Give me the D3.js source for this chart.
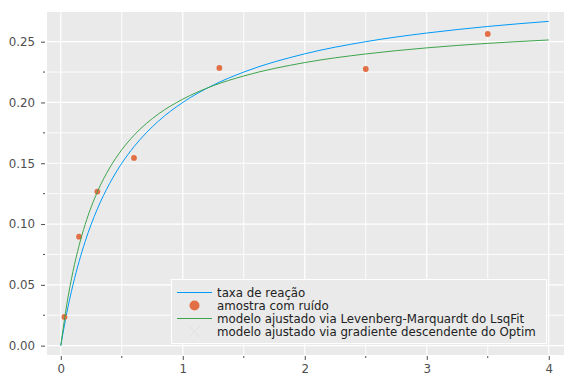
<!DOCTYPE html>
<html><head><meta charset="utf-8">
<script src="https://cdn.jsdelivr.net/npm/d3@7"></script>
<style>body{margin:0;background:#fff}svg{display:block}text{font-family:"DejaVu Sans",sans-serif}</style>
</head><body><svg id="c" width="576" height="384"></svg>
<script>
const curveX = [0,0.05,0.1,0.15,0.2,0.3,0.4,0.5,0.6,0.8,1,1.25,1.5,2,2.5,3,3.5,4];
const taxaReacao = [0,0.0273,0.05,0.0692,0.0857,0.1125,0.1333,0.15,0.1636,0.1846,0.2,0.2143,0.225,0.24,0.25,0.2571,0.2625,0.2667];
const modeloLM = [0,0.0343,0.0610,0.0823,0.0997,0.1265,0.1461,0.1611,0.1730,0.1905,0.2027,0.2138,0.2218,0.2328,0.2399,0.2449,0.2486,0.2514];
const amostraX = [0.03,0.15,0.3,0.6,1.3,2.5,3.5];
const amostraY = [0.0236,0.0896,0.1267,0.1544,0.2284,0.2275,0.2563];
const xTicks = [0,1,2,3,4];
const xMinor = [0.5,1.5,2.5,3.5];
const yTicks = [0,0.05,0.1,0.15,0.2,0.25];
const yMinor = [0.025,0.075,0.125,0.175,0.225];
const legendLabels = ["taxa de reação","amostra com ruído","modelo ajustado via Levenberg-Marquardt do LsqFit","modelo ajustado via gradiente descendente do Optim"];
const colors = {blue:"#009af9", orange:"#e26f46", green:"#3da44d"};

const L=47,R=564,T=12,B=355;
const svg=d3.select("#c");
const x=d3.scaleLinear().domain([-0.113,4.125]).range([L,R]);
const y=d3.scaleLinear().domain([-0.0077,0.2744]).range([B,T]);

svg.append("rect").attr("x",L).attr("y",T).attr("width",R-L).attr("height",B-T).attr("fill","#eaeaea");
const g=svg.append("g");
g.selectAll(".vx").data(xTicks.concat(xMinor)).join("line")
 .attr("x1",d=>x(d)).attr("x2",d=>x(d)).attr("y1",T).attr("y2",B)
 .attr("stroke","#fff").attr("stroke-width",d=>xTicks.includes(d)?1.2:0.9);
g.selectAll(".hy").data(yTicks.concat(yMinor)).join("line")
 .attr("y1",d=>y(d)).attr("y2",d=>y(d)).attr("x1",L).attr("x2",R)
 .attr("stroke","#fff").attr("stroke-width",d=>yTicks.includes(d)?1.2:0.9);

// axes
const xAxis=d3.axisBottom(x).tickValues(xTicks).tickFormat(d3.format("d")).tickSize(4).tickPadding(5);
const ax=svg.append("g").attr("transform",`translate(0,${B+1})`).call(xAxis);
const yAxis=d3.axisLeft(y).tickValues(yTicks).tickFormat(d3.format(".2f")).tickSize(4).tickPadding(6);
const ay=svg.append("g").attr("transform",`translate(${L-2},0)`).call(yAxis);
[ax,ay].forEach(a=>{a.select(".domain").remove();a.selectAll("line").attr("stroke","#4d4d4d");
 a.selectAll("text").attr("fill","#4d4d4d").style("font-size","11.8px").style("font-family","DejaVu Sans");});
svg.append("g").selectAll("line").data(xMinor).join("line")
 .attr("x1",d=>x(d)).attr("x2",d=>x(d)).attr("y1",B+1).attr("y2",B+3).attr("stroke","#4d4d4d");
svg.append("g").selectAll("line").data(yMinor).join("line")
 .attr("y1",d=>y(d)).attr("y2",d=>y(d)).attr("x1",L-4).attr("x2",L-2).attr("stroke","#4d4d4d");

const line=(vals)=>d3.line().x((d,i)=>x(curveX[i])).y(d=>y(d)).curve(d3.curveMonotoneX)(vals);
svg.append("path").attr("d",line(taxaReacao)).attr("fill","none").attr("stroke",colors.blue).attr("stroke-width",1);
svg.append("g").selectAll("circle").data(amostraX).join("circle")
 .attr("cx",d=>x(d)).attr("cy",(d,i)=>y(amostraY[i])).attr("r",2.9).attr("fill",colors.orange);
svg.append("path").attr("d",line(modeloLM)).attr("fill","none").attr("stroke",colors.green).attr("stroke-width",1);

// legend
const lg=svg.append("g");
lg.append("rect").attr("x",171.5).attr("y",279.5).attr("width",375).attr("height",64)
 .attr("fill","#eaeaea").attr("stroke","#fff").attr("stroke-width",1);
const rowY=[292.5,305.5,318.5,331.5];
lg.append("line").attr("x1",177).attr("x2",212).attr("y1",rowY[0]).attr("y2",rowY[0]).attr("stroke",colors.blue);
lg.append("circle").attr("cx",194.5).attr("cy",rowY[1]).attr("r",5).attr("fill",colors.orange);
lg.append("line").attr("x1",177).attr("x2",212).attr("y1",rowY[2]).attr("y2",rowY[2]).attr("stroke",colors.green);
const xs=lg.append("g").attr("stroke","#dcdcdc").attr("stroke-width",0.8);
xs.append("line").attr("x1",189).attr("x2",200).attr("y1",rowY[3]-5.5).attr("y2",rowY[3]+5.5);
xs.append("line").attr("x1",189).attr("x2",200).attr("y1",rowY[3]+5.5).attr("y2",rowY[3]-5.5);
lg.selectAll("text").data(legendLabels).join("text")
 .attr("x",217).attr("y",(d,i)=>rowY[i]).attr("dy","0.35em")
 .style("font-size","11.8px").attr("fill","#222").text(d=>d);
</script></body></html>
